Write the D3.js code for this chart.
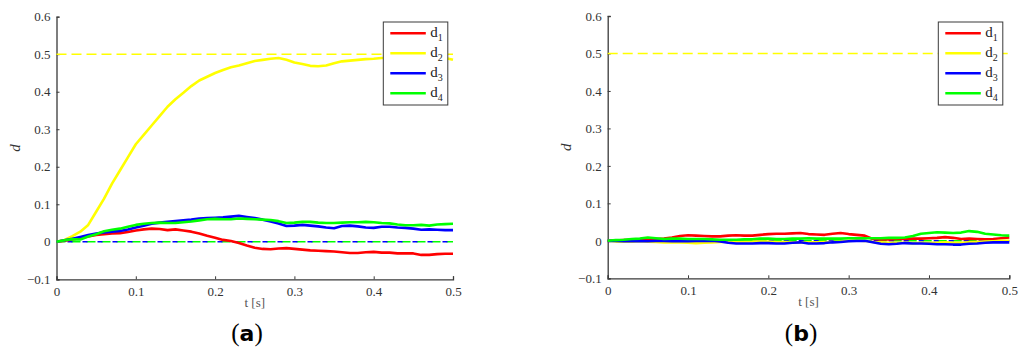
<!DOCTYPE html>
<html>
<head>
<meta charset="utf-8">
<script src="https://cdn.jsdelivr.net/npm/d3@7"></script>
<style>
  body { margin: 0; background: #fff; }
  svg { display: block; }
  .serif { font-family: "Liberation Serif", "Times New Roman", serif; }
</style>
</head>
<body>
<div id="chart"></div>
<script>
const width = 1024;
const height = 354;

// sample times (s), 0.01 s step
const times = d3.range(51).map(i => +(i * 0.01).toFixed(2));

const seriesNames = ["d1", "d2", "d3", "d4"];
const seriesColors = ["#ff0000", "#ffff00", "#0000ff", "#00ff00"];
const yTicks = [-0.1, 0, 0.1, 0.2, 0.3, 0.4, 0.5, 0.6];
const xTicks = [0, 0.1, 0.2, 0.3, 0.4, 0.5];
const refD2 = 0.5;

// panel (a)
const aD1 = [0, 0.003, 0.006, 0.01, 0.014, 0.018, 0.02, 0.022, 0.023, 0.026,
  0.03, 0.033, 0.035, 0.034, 0.031, 0.033, 0.03, 0.027, 0.022, 0.016,
  0.011, 0.005, 0.002, -0.003, -0.01, -0.016, -0.019, -0.02, -0.018, -0.017,
  -0.019, -0.021, -0.023, -0.024, -0.025, -0.026, -0.028, -0.03, -0.03, -0.028,
  -0.027, -0.029, -0.029, -0.031, -0.031, -0.031, -0.035, -0.035, -0.033, -0.032, -0.032];
const aD2 = [0, 0.005, 0.015, 0.027, 0.045, 0.08, 0.115, 0.155, 0.19, 0.225,
  0.26, 0.285, 0.31, 0.335, 0.36, 0.38, 0.397, 0.415, 0.43, 0.44,
  0.45, 0.458, 0.465, 0.47, 0.476, 0.482, 0.485, 0.488, 0.49, 0.485,
  0.478, 0.474, 0.469, 0.468, 0.47, 0.476, 0.481, 0.483, 0.485, 0.487,
  0.488, 0.49, 0.49, 0.489, 0.49, 0.491, 0.49, 0.49, 0.491, 0.49, 0.485];
const aD3 = [0, 0.004, 0.008, 0.013, 0.018, 0.022, 0.025, 0.027, 0.029, 0.033,
  0.038, 0.043, 0.048, 0.051, 0.053, 0.055, 0.057, 0.059, 0.062, 0.063,
  0.064, 0.065, 0.067, 0.069, 0.066, 0.063, 0.059, 0.054, 0.049, 0.042,
  0.043, 0.045, 0.043, 0.041, 0.038, 0.036, 0.042, 0.043, 0.041, 0.038,
  0.037, 0.04, 0.04, 0.038, 0.037, 0.035, 0.032, 0.033, 0.032, 0.031, 0.031];
const aD4 = [0, 0.004, 0.007, 0.006, 0.014, 0.02, 0.028, 0.032, 0.035, 0.04,
  0.045, 0.048, 0.05, 0.051, 0.05, 0.05, 0.052, 0.054, 0.057, 0.06,
  0.061, 0.06, 0.06, 0.062, 0.061, 0.06, 0.059, 0.058, 0.055, 0.05,
  0.051, 0.053, 0.053, 0.051, 0.05, 0.05, 0.051, 0.052, 0.052, 0.053,
  0.052, 0.05, 0.049, 0.046, 0.044, 0.044, 0.045, 0.043, 0.046, 0.047, 0.048];

// panel (b)
const bD1 = [0, 0.001, 0.002, 0.003, 0.003, 0.004, 0.005, 0.006, 0.009, 0.013,
  0.015, 0.014, 0.013, 0.012, 0.012, 0.014, 0.015, 0.014, 0.014, 0.016,
  0.018, 0.019, 0.019, 0.02, 0.021, 0.018, 0.017, 0.016, 0.019, 0.021,
  0.018, 0.016, 0.014, 0.005, 0.004, 0.004, 0.005, 0.005, 0.006, 0.006,
  0.007, 0.008, 0.01, 0.008, 0.005, 0.006, 0.005, 0.004, 0.005, 0.007, 0.009];
const bD2 = [0, -0.002, -0.002, -0.002, -0.001, -0.002, -0.003, -0.004, -0.004, -0.004,
  -0.005, -0.006, -0.005, -0.004, -0.003, -0.002, -0.002, -0.002, -0.001, -0.002,
  -0.002, -0.003, -0.003, -0.004, -0.004, -0.004, -0.004, -0.003, -0.003, -0.002,
  0, 0.001, 0, -0.003, -0.004, -0.005, -0.005, -0.005, -0.006, -0.005,
  -0.005, -0.005, -0.004, -0.005, -0.005, -0.004, -0.003, -0.002, -0.001, 0, 0];
const bD3 = [0, 0, -0.001, -0.001, 0, -0.001, 0, 0, -0.001, -0.001,
  -0.001, 0, 0, 0, -0.002, -0.005, -0.007, -0.007, -0.007, -0.006,
  -0.006, -0.007, -0.007, -0.005, -0.004, -0.007, -0.007, -0.006, -0.004, -0.003,
  -0.001, 0, 0, -0.004, -0.008, -0.009, -0.008, -0.006, -0.007, -0.007,
  -0.008, -0.009, -0.009, -0.01, -0.01, -0.008, -0.007, -0.005, -0.004, -0.004, -0.004];
const bD4 = [0, 0.002, 0.003, 0.005, 0.006, 0.009, 0.007, 0.005, 0.006, 0.006,
  0.005, 0.005, 0.005, 0.004, 0.003, 0.003, 0.003, 0.004, 0.004, 0.006,
  0.006, 0.005, 0.005, 0.006, 0.006, 0.007, 0.006, 0.006, 0.006, 0.006,
  0.007, 0.007, 0.007, 0.007, 0.007, 0.008, 0.008, 0.009, 0.013, 0.019,
  0.021, 0.023, 0.022, 0.021, 0.022, 0.026, 0.024, 0.019, 0.017, 0.015, 0.014];

const svg = d3.select("#chart")
    .append("svg")
    .attr("width", width)
    .attr("height", height);

const axisColor = "#3a3a3a";

function drawPanel(series, box, letter, letterX) {
    const x = d3.scaleLinear().domain([0, 0.5]).range([box.x0, box.x1]);
    const y = d3.scaleLinear().domain([-0.1, 0.6]).range([box.y0, box.y1]);
    const g = svg.append("g");

    // axes, ticks pointing inward
    const yAxis = d3.axisLeft(y)
        .tickValues(yTicks)
        .tickSize(-3)
        .tickPadding(6)
        .tickFormat(d => d === 0 ? "0" : d3.format(".1f")(d).replace("-", "\u2212"));
    const gy = g.append("g")
        .attr("transform", `translate(${box.x0},0)`)
        .call(yAxis);
    const xAxis = d3.axisBottom(x)
        .tickValues(xTicks)
        .tickSize(-3)
        .tickPadding(7)
        .tickFormat(d => d === 0 ? "0" : d3.format(".1f")(d));
    const gx = g.append("g")
        .attr("transform", `translate(0,${box.y0})`)
        .call(xAxis);
    [gx, gy].forEach(a => {
        a.attr("font-family", null).attr("font-size", null);
        a.select(".domain").attr("stroke", axisColor).attr("stroke-width", 1.3);
        a.selectAll(".tick line").attr("stroke", axisColor);
        a.selectAll(".tick text")
            .attr("class", "serif")
            .attr("fill", "#333")
            .style("font-size", "13px");
    });

    // reference lines
    g.append("line")
        .attr("x1", x(0)).attr("x2", x(0.5))
        .attr("y1", y(refD2)).attr("y2", y(refD2))
        .attr("stroke", seriesColors[1])
        .attr("stroke-width", 1.5)
        .attr("stroke-dasharray", "10,5");
    [[3, "9,6", 0], [2, "5,10", -11]].forEach(([ci, dash, off]) => {
        g.append("line")
            .attr("x1", x(0)).attr("x2", x(0.5))
            .attr("y1", y(0)).attr("y2", y(0))
            .attr("stroke", seriesColors[ci])
            .attr("stroke-width", 1.5)
            .attr("stroke-dasharray", dash)
            .attr("stroke-dashoffset", off);
    });

    const line = d3.line()
        .x((d, i) => x(times[i]))
        .y(d => y(d));

    series.forEach((s, i) => {
        g.append("path")
            .datum(s)
            .attr("fill", "none")
            .attr("stroke", seriesColors[i])
            .attr("stroke-width", 2.6)
            .attr("stroke-linejoin", "round")
            .attr("d", line);
    });

    // labels
    g.append("text")
        .attr("class", "serif")
        .attr("transform", `translate(${box.x0 - 37},${y(0.25)}) rotate(-90)`)
        .attr("text-anchor", "middle")
        .style("font-style", "italic")
        .style("font-size", "15px")
        .attr("fill", "#333")
        .text("d");
    g.append("text")
        .attr("class", "serif")
        .attr("x", x(0.25))
        .attr("y", box.y0 + 28)
        .attr("text-anchor", "middle")
        .style("font-size", "13px")
        .attr("fill", "#555")
        .text("t [s]");

    // legend
    const lg = g.append("g").attr("transform", `translate(${box.lx},22)`);
    lg.append("rect")
        .attr("width", 64.5)
        .attr("height", 83)
        .attr("fill", "#fff")
        .attr("stroke", axisColor)
        .attr("stroke-width", 1);
    seriesNames.forEach((name, i) => {
        const yy = 11.3 + i * 20;
        lg.append("line")
            .attr("x1", 7).attr("x2", 42.5)
            .attr("y1", yy).attr("y2", yy)
            .attr("stroke", seriesColors[i])
            .attr("stroke-width", 2.5);
        const t = lg.append("text")
            .attr("class", "serif")
            .attr("x", 47)
            .attr("y", yy + 4)
            .style("font-size", "15px")
            .attr("fill", "#222");
        t.append("tspan").text(name[0]);
        t.append("tspan")
            .attr("dy", 4)
            .style("font-size", "10px")
            .text(name.slice(1));
    });

    // panel letter
    const lt = svg.append("text")
        .attr("class", "serif")
        .attr("x", letterX)
        .attr("y", 341)
        .attr("text-anchor", "middle")
        .style("font-size", "25px")
        .attr("fill", "#000");
    lt.append("tspan").text("(");
    lt.append("tspan")
        .style("font-family", "'DejaVu Sans', sans-serif")
        .style("font-weight", "bold")
        .style("font-size", "22px")
        .text(letter);
    lt.append("tspan").text(")");
}

drawPanel([aD1, aD2, aD3, aD4],
    { x0: 56.5, x1: 453, y0: 279.3, y1: 16.7, lx: 383.3 }, "a", 247);
drawPanel([bD1, bD2, bD3, bD4],
    { x0: 607.7, x1: 1009.3, y0: 278.3, y1: 16, lx: 938.3 }, "b", 801);
</script>
</body>
</html>
